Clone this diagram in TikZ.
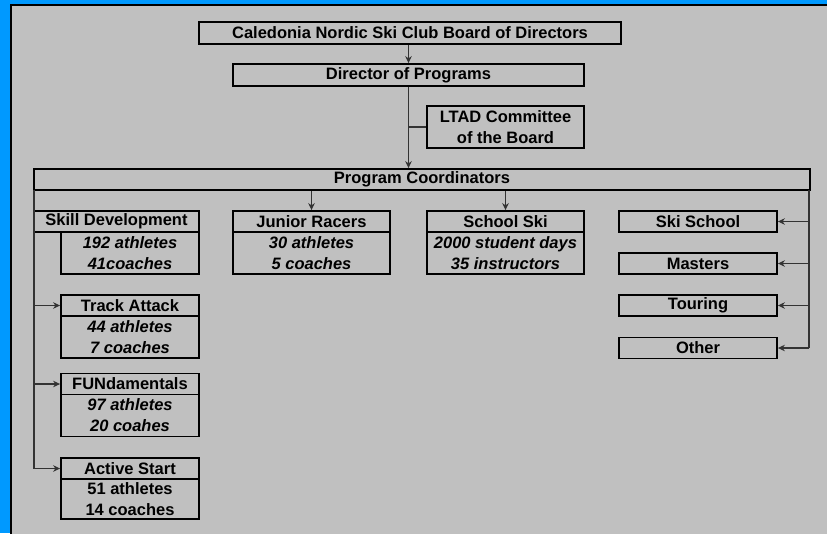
\documentclass[tikz,border=0pt]{standalone}
\usepackage{fontspec}
\setmainfont{Liberation Sans}
\usetikzlibrary{arrows.meta}
\definecolor{bgblue}{RGB}{0,153,255}
\definecolor{panel}{RGB}{192,192,192}
\begin{document}
\begin{tikzpicture}[x=1pt,y=-1pt,
 box/.style={draw=black, line width=1.8pt, inner sep=0pt, font=\fontsize{16.5}{21}\selectfont\bfseries, align=center},
 sub/.style={box, font=\fontsize{16.5}{21}\selectfont\bfseries\itshape},
 conn/.style={draw=black!80, line width=1.3pt},
 arr/.style={conn, -{Stealth[length=7pt,width=6.5pt]}}]
\useasboundingbox (0,0) rectangle (827,533);
\clip (0,0) rectangle (827,533);
\fill[bgblue] (0,0) rectangle (827,533);
\draw[fill=panel, line width=1.5pt] (11,5) rectangle (840,545);

% top
\node[box, minimum width=422pt, minimum height=22pt] (board) at (410,33) {Caledonia Nordic Ski Club Board of Directors};
\node[box, minimum width=351pt, minimum height=22pt] (dir) at (408.5,75) {Director of Programs};
\node[box, minimum width=157pt, minimum height=42pt] (ltad) at (505.5,127) {LTAD Committee\\of the Board};
\node[box, minimum width=776pt, minimum height=21pt] (pc) at (422,179.5) {Program Coordinators};

% row
\node[box, minimum width=165pt, minimum height=21pt] (sd) at (116.5,221.5) {Skill Development};
\node[sub, minimum width=138pt, minimum height=42pt] (sds) at (130,253) {192 athletes\\41coaches};
\node[box, minimum width=157pt, minimum height=21pt] (jr) at (311.5,221.5) {Junior Racers};
\node[sub, minimum width=157pt, minimum height=42pt] (jrs) at (311.5,253) {30 athletes\\5 coaches};
\node[box, minimum width=157pt, minimum height=21pt] (ss) at (505.5,221.5) {School Ski};
\node[sub, minimum width=157pt, minimum height=42pt] (sss) at (505.5,253) {2000 student days\\35 instructors};

% right column
\node[box, minimum width=158pt, minimum height=21pt] (skis) at (698,221.5) {Ski School};
\node[box, minimum width=158pt, minimum height=21pt] (mast) at (698,263.5) {Masters};
\node[box, minimum width=158pt, minimum height=21pt] (tour) at (698,305.5) {Touring};
\node[box, minimum width=158pt, minimum height=21pt] (oth) at (698,348) {Other};

% left column
\node[box, minimum width=138pt, minimum height=21pt] (ta) at (130,305.5) {Track Attack};
\node[sub, minimum width=138pt, minimum height=42pt] (tas) at (130,337) {44 athletes\\7 coaches};
\node[box, minimum width=138pt, minimum height=21pt] (fun) at (130,384) {FUNdamentals};
\node[sub, minimum width=138pt, minimum height=42pt] (funs) at (130,415.5) {97 athletes\\20 coahes};
\node[box, minimum width=138pt, minimum height=21pt] (as) at (130,468.5) {Active Start};
\node[box, minimum width=138pt, minimum height=40pt] (ass) at (130,499) {51 athletes\\14 coaches};

% connectors
\draw[arr] (dir.north |- board.south) -- (dir.north);
\draw[arr] (dir.south) -- (dir.south |- pc.north);
\draw[conn] (dir.south |- ltad.west) -- (ltad.west);
\draw[arr] (jr.north |- pc.south) -- (jr.north);
\draw[arr] (ss.north |- pc.south) -- (ss.north);

\coordinate (lt) at (34,190);
\coordinate (lb) at (lt |- as.west);
\draw[conn] (lt) -- (lb);
\draw[arr] (lt |- ta.west) -- (ta.west);
\draw[arr] (lt |- fun.west) -- (fun.west);
\draw[arr] (lb) -- (as.west);

\coordinate (rt) at (809,190);
\coordinate (rb) at (rt |- oth.east);
\draw[conn] (rt) -- (rb);
\draw[arr] (rt |- skis.east) -- (skis.east);
\draw[arr] (rt |- mast.east) -- (mast.east);
\draw[arr] (rt |- tour.east) -- (tour.east);
\draw[arr] (rb) -- (oth.east);
\end{tikzpicture}
\end{document}
